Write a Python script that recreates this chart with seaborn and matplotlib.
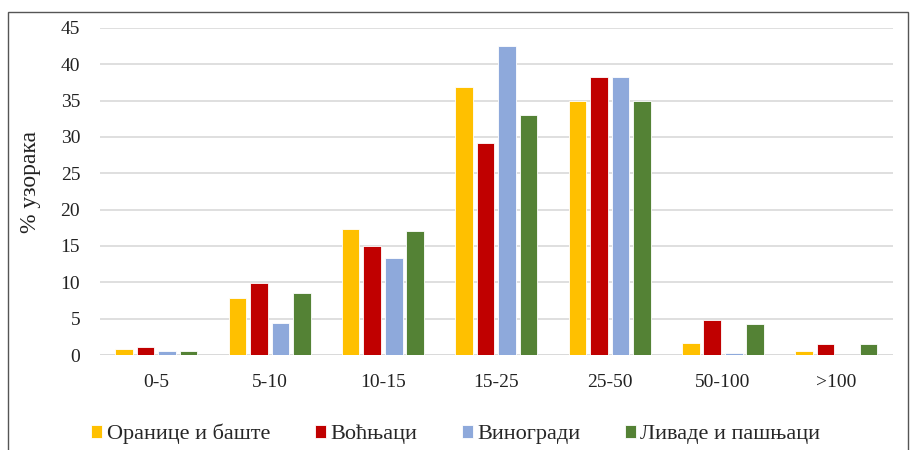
import pandas as pd
import seaborn as sns
import matplotlib.pyplot as plt
from matplotlib.patches import Rectangle

categories = ['0-5', '5-10', '10-15', '15-25', '25-50', '50-100', '>100']
series = ['Оранице и баште', 'Воћњаци', 'Виногради', 'Ливаде и пашњаци']
oranice = [0.8, 7.9, 17.3, 36.9, 34.9, 1.7, 0.6]
vocnjaci = [1.1, 9.9, 15.0, 29.1, 38.2, 4.8, 1.5]
vinogradi = [0.6, 4.4, 13.3, 42.5, 38.2, 0.3, 0.0]
livade = [0.6, 8.5, 17.1, 33.0, 34.9, 4.3, 1.5]
colors = ['#FFC000', '#C00000', '#8EA9DB', '#548235']

rows = []
for name, vals in zip(series, [oranice, vocnjaci, vinogradi, livade]):
    for c, v in zip(categories, vals):
        rows.append({'cat': c, 'series': name, 'value': v})
df = pd.DataFrame(rows)

sns.set_style('white')
plt.rcParams['font.family'] = ['Liberation Serif', 'DejaVu Serif']

fig = plt.figure(figsize=(9.14, 4.5), dpi=100)
ax = fig.add_axes([0.109, 0.211, 0.868, 0.727])

sns.barplot(data=df, x='cat', y='value', hue='series', order=categories,
            hue_order=series, palette=colors, saturation=1, width=0.76,
            gap=0.18, edgecolor='white', linewidth=0.6, ax=ax, legend=True)

ax.set_ylim(0, 45)
ax.set_xlim(-0.5, 6.5)
ax.set_yticks(range(0, 46, 5))
ax.yaxis.grid(True, color='#D9D9D9', linewidth=1.2)
ax.set_axisbelow(True)
for s in ax.spines.values():
    s.set_visible(False)
ax.axhline(0, color='#D9D9D9', linewidth=1.2, zorder=0)
ax.tick_params(axis='both', length=0, labelsize=14, colors='#222222')
ax.tick_params(axis='x', pad=14)
ax.tick_params(axis='y', pad=14)
ax.set_xlabel('')
ax.set_ylabel('% узорака', fontsize=17, color='#222222')
ax.yaxis.set_label_coords(-0.074, 0.53)

handles, labels = ax.get_legend_handles_labels()
ax.legend(handles, labels, loc='center', bbox_to_anchor=(0.449, -0.242),
          ncol=4, frameon=False, fontsize=16, handlelength=0.5,
          handleheight=0.5, handletextpad=0.2, columnspacing=2.0)

fig.patches.append(Rectangle((8 / 914, -0.01), 900 / 914, 1 - 12 / 450 + 0.01,
                             transform=fig.transFigure, fill=False,
                             edgecolor='#555555', linewidth=1.0))

fig.savefig('out.png', dpi=100)
